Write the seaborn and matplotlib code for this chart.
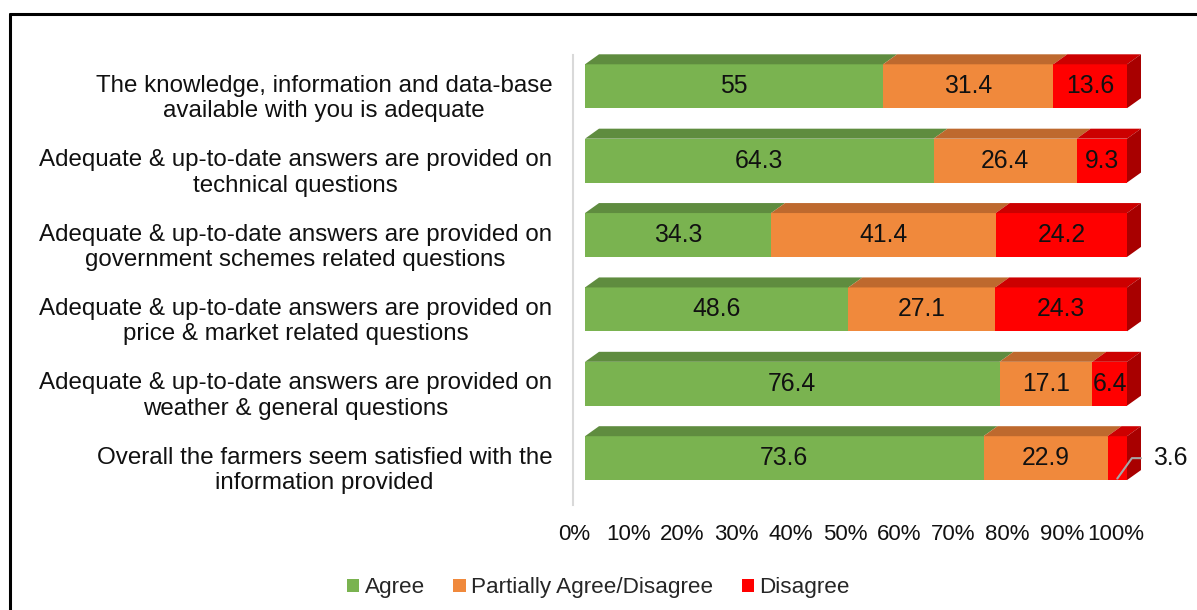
import numpy as np
import pandas as pd
import matplotlib
matplotlib.use("Agg")
import matplotlib.pyplot as plt
import seaborn as sns
from matplotlib.patches import Polygon, Patch
from matplotlib.lines import Line2D
from matplotlib.transforms import ScaledTranslation

# ---------------- data ----------------
categories = [
    "The knowledge, information and data-base\navailable with you is adequate",
    "Adequate & up-to-date answers are provided on\ntechnical questions",
    "Adequate & up-to-date answers are provided on\ngovernment schemes related questions",
    "Adequate & up-to-date answers are provided on\nprice & market related questions",
    "Adequate & up-to-date answers are provided on\nweather & general questions",
    "Overall the farmers seem satisfied with the\ninformation provided",
]
agree = [55, 64.3, 34.3, 48.6, 76.4, 73.6]
partial = [31.4, 26.4, 41.4, 27.1, 17.1, 22.9]
disagree = [13.6, 9.3, 24.2, 24.3, 6.4, 3.6]
series_names = ["Agree", "Partially Agree/Disagree", "Disagree"]
tick_values = [0, 10, 20, 30, 40, 50, 60, 70, 80, 90, 100]
tick_labels = ["0%", "10%", "20%", "30%", "40%", "50%", "60%", "70%", "80%", "90%", "100%"]

front_colors = ["#7AB350", "#F0893C", "#FF0000"]
top_colors = ["#5F8C3F", "#BE692E", "#CC0000"]
side_color = "#A80000"

# ---------------- style ----------------
sns.set_style("white")
plt.rcParams["font.family"] = ["Liberation Sans", "DejaVu Sans"]

W, H = 1197, 610
fig = plt.figure(figsize=(W / 100, H / 100), dpi=100)
ax_left, ax_right = 585, 1127
ax_top, ax_bottom = 55, 505
ax = fig.add_axes([ax_left / W, 1 - ax_bottom / H, (ax_right - ax_left) / W, (ax_bottom - ax_top) / H])

df = pd.DataFrame({"category": categories, "agree": agree, "partial": partial, "disagree": disagree})
total = df["agree"] + df["partial"] + df["disagree"]
df["c1"] = df["agree"] / total * 100
df["c2"] = (df["agree"] + df["partial"]) / total * 100
df["c3"] = (df["agree"] + df["partial"] + df["disagree"]) / total * 100

bar_h = 0.59
for col, color in [("c3", front_colors[2]), ("c2", front_colors[1]), ("c1", front_colors[0])]:
    sns.barplot(data=df, x=col, y="category", order=categories, orient="h", color=color,
                saturation=1, width=bar_h, ax=ax, linewidth=0)

ax.set_xlim(0, 100)
ax.set_ylim(5.63, -0.42)

# 3-D depth in data units
px_per_x = (ax_right - ax_left) / 100.0
px_per_y = (ax_bottom - ax_top) / (5.63 + 0.42)
dx = 14 / px_per_x
dy = 10 / px_per_y

for i in range(len(categories)):
    bounds = [0, df["c1"][i], df["c2"][i], df["c3"][i]]
    ytop = i - bar_h / 2
    ybot = i + bar_h / 2
    for k in range(3):
        x0, x1 = bounds[k], bounds[k + 1]
        poly = Polygon([(x0, ytop), (x1, ytop), (x1 + dx, ytop - dy), (x0 + dx, ytop - dy)],
                       closed=True, facecolor=top_colors[k], edgecolor="none", clip_on=False)
        ax.add_patch(poly)
    xe = bounds[3]
    side = Polygon([(xe, ytop), (xe + dx, ytop - dy), (xe + dx, ybot - dy), (xe, ybot)],
                   closed=True, facecolor=side_color, edgecolor="none", clip_on=False)
    ax.add_patch(side)

    vals = [agree[i], partial[i], disagree[i]]
    for k in range(3):
        x0, x1 = bounds[k], bounds[k + 1]
        if vals[k] >= 5:
            ax.text((x0 + x1) / 2, i, f"{vals[k]:g}", ha="center", va="center",
                    fontsize=17.8, color="#111111")
        else:
            xm = (x0 + x1) / 2
            ax.plot([xm, xe + 0.35 * dx, xe + 1.0 * dx], [ybot - 0.02, i, i],
                    color="#A6A6A6", lw=1.5, clip_on=False, zorder=5)
            ax.text(xe + 1.0 * dx + 2.3, i, f"{vals[k]:g}", ha="left", va="center",
                    fontsize=17.8, color="#111111")

# axes styling
for s in ["top", "right", "bottom"]:
    ax.spines[s].set_visible(False)
ax.spines["left"].set_color("#D9D9D9")
ax.spines["left"].set_linewidth(1.5)
ax.spines["left"].set_position(("outward", 8.6))
ax.set_xlabel("")
ax.set_ylabel("")
ax.set_xticks(tick_values)
ax.set_xticklabels(tick_labels, fontsize=16, color="#111111")
ax.set_yticks(range(len(categories)))
ax.set_yticklabels(categories, fontsize=17.4, color="#111111", multialignment="center")
ax.tick_params(axis="x", length=0, pad=14)
ax.tick_params(axis="y", length=0, pad=15)
offx = ScaledTranslation(-11 / 100, 0, fig.dpi_scale_trans)
for lab in ax.get_xticklabels():
    lab.set_transform(lab.get_transform() + offx)
offy = ScaledTranslation(0, -8 / 100, fig.dpi_scale_trans)
for lab in ax.get_yticklabels():
    lab.set_transform(lab.get_transform() + offy)
ax.grid(False)

# legend
handles = [Patch(facecolor=c, edgecolor="none") for c in front_colors]
fig.legend(handles, series_names, loc="center", bbox_to_anchor=(0.5, 1 - 588 / H), ncol=3,
           frameon=False, fontsize=16.2, handlelength=0.55, handleheight=0.55,
           handletextpad=0.25, columnspacing=1.25)

# outer border (top and left only visible)
fig.add_artist(Line2D([9.5 / W, 1.02], [1 - 14 / H, 1 - 14 / H], transform=fig.transFigure,
                      color="black", lw=2.2))
fig.add_artist(Line2D([9.5 / W, 9.5 / W], [-0.02, 1 - 14 / H], transform=fig.transFigure,
                      color="black", lw=2.2))

fig.savefig("out.png", dpi=100, facecolor="white")
